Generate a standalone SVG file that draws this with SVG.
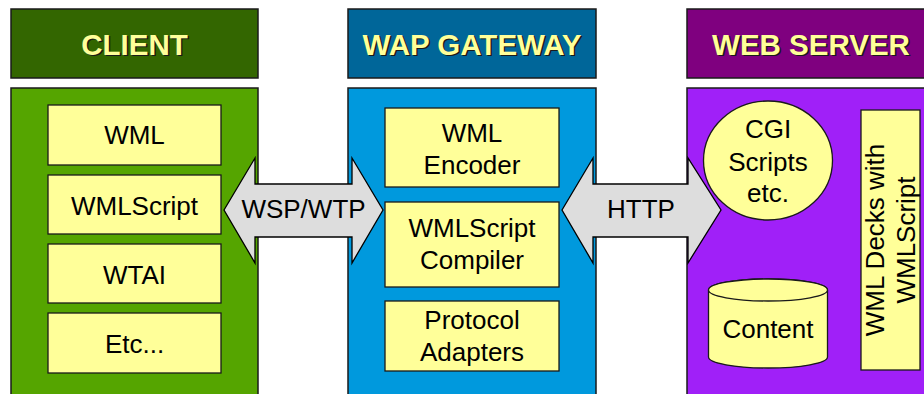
<svg xmlns="http://www.w3.org/2000/svg" width="924" height="394" viewBox="0 0 924 394">
  <style>
    .panel { stroke: #1a1a1a; stroke-width: 1.5; }
    .box { fill: #FFFF99; stroke: #1a1a1a; stroke-width: 1.3; }
    .arrow { fill: #DDDDDD; stroke: #000; stroke-width: 1.3; stroke-linejoin: miter; }
    .head { font-family: "Liberation Sans", Arial, sans-serif; font-weight: bold; font-size: 29.5px; text-anchor: middle; fill: #FFFF99; }
    .headShadow { font-family: "Liberation Sans", Arial, sans-serif; font-weight: bold; font-size: 29.5px; text-anchor: middle; fill: #1a1a1a; }
    .lbl { font-family: "Liberation Sans", Arial, sans-serif; font-size: 26px; text-anchor: middle; fill: #000; }
  </style>
  <rect width="924" height="394" fill="#FFFFFF"/>

  <!-- Client column -->
  <g id="client">
    <rect class="panel" x="11" y="9" width="247" height="69" fill="#336600"/>
    <text class="headShadow" x="136" y="56">CLIENT</text>
    <text class="head" x="134.5" y="54.5">CLIENT</text>
    <rect class="panel" x="11" y="88" width="247" height="320" fill="#55A500"/>
  </g>
  <g id="client-wml">
    <rect class="box" x="48" y="105" width="173" height="60"/>
    <text class="lbl" x="134.5" y="144">WML</text>
  </g>
  <g id="client-wmlscript">
    <rect class="box" x="48" y="175" width="173" height="59"/>
    <text class="lbl" x="134.5" y="215">WMLScript</text>
  </g>
  <g id="client-wtai">
    <rect class="box" x="48" y="244" width="173" height="59"/>
    <text class="lbl" x="134.5" y="284">WTAI</text>
  </g>
  <g id="client-etc">
    <rect class="box" x="48" y="313" width="173" height="60"/>
    <text class="lbl" x="134.5" y="353">Etc...</text>
  </g>

  <!-- WAP gateway column -->
  <g id="gateway">
    <rect class="panel" x="348" y="9" width="248" height="69" fill="#006699"/>
    <text class="headShadow" x="473.5" y="56">WAP GATEWAY</text>
    <text class="head" x="472" y="54.5">WAP GATEWAY</text>
    <rect class="panel" x="348" y="88" width="248" height="320" fill="#0099DD"/>
  </g>

  <!-- Web server column -->
  <g id="webserver">
    <rect class="panel" x="687" y="9" width="250" height="69" fill="#7F007F"/>
    <text class="headShadow" x="812.5" y="56">WEB SERVER</text>
    <text class="head" x="811" y="54.5">WEB SERVER</text>
    <rect class="panel" x="687" y="88" width="250" height="320" fill="#A020F8"/>
  </g>

  <!-- Protocol connectors -->
  <g id="connectors">
    <g id="wsp-wtp">
      <path class="arrow" d="M224,210 L255,158 L255,184 L352,184 L352,158 L383,210 L352,263 L352,237 L255,237 L255,263 Z"/>
      <text class="lbl" x="303.5" y="218">WSP/WTP</text>
    </g>
    <g id="http">
      <path class="arrow" d="M562,210 L593,158 L593,184 L688,184 L688,158 L721,210 L688,263 L688,237 L593,237 L593,263 Z"/>
      <text class="lbl" x="641" y="218">HTTP</text>
    </g>
  </g>

  <!-- Gateway components -->
  <g id="wml-encoder">
    <rect class="box" x="385" y="108" width="174" height="79"/>
    <text class="lbl" x="472" y="142">WML</text>
    <text class="lbl" x="472" y="173.5">Encoder</text>
  </g>
  <g id="wmlscript-compiler">
    <rect class="box" x="385" y="202" width="174" height="85"/>
    <text class="lbl" x="472" y="237">WMLScript</text>
    <text class="lbl" x="472" y="269">Compiler</text>
  </g>
  <g id="protocol-adapters">
    <rect class="box" x="385" y="301" width="174" height="70"/>
    <text class="lbl" x="472" y="329">Protocol</text>
    <text class="lbl" x="472" y="361">Adapters</text>
  </g>

  <!-- Web server components -->
  <g id="cgi-scripts">
    <ellipse class="box" cx="768" cy="160.5" rx="64.5" ry="59.5"/>
    <text class="lbl" x="768" y="138">CGI</text>
    <text class="lbl" x="768" y="170.5">Scripts</text>
    <text class="lbl" x="768" y="202">etc.</text>
  </g>
  <g id="content">
    <path class="box" d="M708.5,290 L708.5,357 A59.5,11 0 0 0 827.5,357 L827.5,290 A59.5,11 0 0 0 708.5,290 Z"/>
    <ellipse class="box" cx="768" cy="290" rx="59.5" ry="11"/>
    <text class="lbl" x="768" y="338">Content</text>
  </g>
  <g id="wml-decks">
    <rect class="box" x="861" y="110" width="59" height="260"/>
    <text class="lbl" transform="translate(884,240) rotate(-90)">WML Decks with</text>
    <text class="lbl" transform="translate(915,240) rotate(-90)">WMLScript</text>
  </g>
</svg>
